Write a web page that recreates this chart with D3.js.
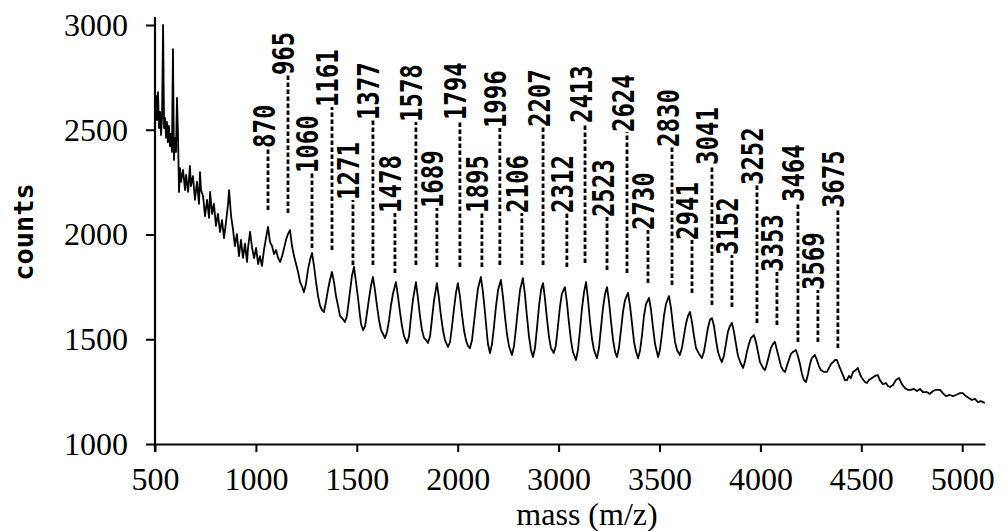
<!DOCTYPE html>
<html>
<head>
<meta charset="utf-8">
<style>
	body { margin:0; background:#fff; }
	svg { position:absolute; top:0px; left:0px; }
	.axis line, .axis path { stroke:#000; stroke-width:2px; }
	.axis text { font-family:"Liberation Serif", "Times New Roman", serif; font-size:32px; fill:#000; }
	.spectrum { fill:none; stroke:#000; stroke-width:1.8px; stroke-linejoin:round; }
	.leader { stroke:#000; stroke-width:2.8px; stroke-dasharray:4.5,2.5; }
	.peak-label { font-family:"DejaVu Sans Mono", monospace; font-size:30px; font-weight:bold; fill:#000; }
	.title { font-family:"Liberation Serif", serif; font-size:32px; fill:#000; }
	.ytitle { font-family:"DejaVu Sans Mono", monospace; font-size:27px; font-weight:bold; fill:#000; }
</style>
<script src="https://cdnjs.cloudflare.com/ajax/libs/d3/7.8.5/d3.min.js"></script>
</head>
<body>
<svg width="1005" height="531"></svg>
<script>
// axis ticks (the printed figure skips "2500", so labels run one step ahead after 2000)
var xTickValues = [500,1000,1500,2000,2500,3000,3500,4000,4500];
var xTickLabels = ["500","1000","1500","2000","3000","3500","4000","4500","5000"];
var yTickValues = [1000,1500,2000,2500,3000];

// spectrum: [mass, counts]
var spectrum = [
[500,2508],[505,2661],[510,2547],[515,2680],[520,2508],[525,2585],[530,2475],[535,2566],[540,3000],[545,2508],
[550,2556],[555,2461],[559,2537],[564,2441],[569,2518],[574,2422],[579,2480],[584,2394],[589,2885],[594,2356],
[599,2461],[604,2394],[609,2652],[614,2475],[619,2203],[624,2317],[629,2251],[639,2308],[649,2212],[654,2284],
[664,2203],[673,2327],[678,2231],[688,2279],[698,2165],[708,2251],[718,2146],[723,2298],[728,2212],[738,2184],
[748,2088],[758,2165],[768,2079],[773,2203],[783,2098],[792,2146],[802,2041],[812,2098],[822,2012],[832,2069],
[842,1983],[852,2060],[862,2146],[867,2212],[877,2088],[887,2021],[896,1945],[906,2002],[916,1897],[926,1974],
[936,1888],[946,1955],[956,1869],[961,1936],[971,2012],[981,1936],[991,1888],[1001,1936],[1011,1859],[1020,1897],
[1030,1850],[1040,1926],[1050,1983],[1060,2036],[1070,1964],[1080,1945],[1090,1907],[1100,1926],[1110,1888],[1120,1869],
[1130,1897],[1140,1936],[1149,1974],[1159,2002],[1169,2021],[1179,1945],[1189,1897],[1199,1859],[1209,1821],[1219,1773],
[1228,1754],[1238,1725],[1248,1764],[1258,1831],[1268,1878],[1278,1912],[1288,1850],[1298,1773],[1308,1706],[1318,1659],
[1327,1640],[1337,1630],[1347,1678],[1357,1735],[1367,1783],[1377,1821],
[1387,1773],[1397,1706],[1407,1659],[1417,1611],[1427,1601],[1441,1582],[1451,1611],[1461,1687],[1471,1764],[1476,1802],[1486,1845],
[1496,1773],[1506,1697],[1516,1611],[1521,1573],[1531,1544],[1541,1563],[1551,1630],[1561,1697],[1570,1754],[1580,1797],
[1590,1735],[1600,1659],[1610,1592],[1620,1544],[1630,1525],[1640,1506],[1650,1535],[1660,1592],[1669,1659],[1679,1716],[1694,1773],
[1704,1706],[1714,1630],[1724,1563],[1734,1515],[1749,1482],[1759,1515],[1769,1611],[1778,1687],[1793,1773],
[1803,1697],[1813,1611],[1823,1544],[1833,1506],[1843,1496],[1853,1482],[1863,1515],[1873,1601],[1883,1687],[1897,1768],
[1907,1697],[1917,1611],[1927,1544],[1937,1496],[1952,1463],[1962,1487],[1972,1563],[1982,1649],[1992,1725],[2001,1768],
[2011,1706],[2021,1620],[2031,1544],[2041,1496],[2051,1468],[2061,1458],[2071,1496],[2081,1582],[2091,1668],[2101,1745],[2115,1797],
[2125,1725],[2135,1630],[2145,1525],[2150,1477],[2160,1434],[2170,1477],[2180,1563],[2190,1659],[2200,1735],[2214,1783],
[2224,1706],[2234,1611],[2244,1525],[2254,1468],[2269,1425],[2279,1468],[2289,1554],[2299,1649],[2309,1735],[2323,1792],
[2333,1716],[2343,1611],[2353,1515],[2363,1449],[2373,1415],[2383,1458],[2393,1554],[2403,1659],[2413,1735],[2423,1768],
[2432,1697],[2442,1601],[2452,1515],[2462,1458],[2476,1434],[2486,1468],[2496,1554],[2506,1649],[2516,1716],[2531,1749],
[2541,1678],[2551,1582],[2561,1496],[2571,1439],[2586,1401],[2596,1449],[2606,1544],[2616,1649],[2626,1725],[2636,1773],
[2645,1697],[2655,1592],[2665,1506],[2675,1449],[2690,1410],[2700,1458],[2710,1554],[2720,1649],[2730,1716],[2740,1749],
[2750,1678],[2760,1582],[2770,1496],[2780,1439],[2789,1415],[2799,1458],[2809,1544],[2819,1630],[2829,1687],[2844,1721],
[2854,1659],[2864,1573],[2874,1487],[2884,1439],[2894,1410],[2904,1449],[2914,1525],[2923,1611],[2933,1668],[2948,1697],
[2958,1640],[2968,1554],[2978,1477],[2993,1415],[3002,1449],[3012,1525],[3022,1611],[3032,1668],[3047,1706],
[3057,1649],[3067,1563],[3077,1487],[3087,1449],[3101,1425],[3111,1458],[3121,1515],[3131,1573],[3141,1611],[3151,1630],
[3161,1582],[3171,1515],[3181,1458],[3196,1430],[3210,1410],[3220,1439],[3230,1496],[3240,1554],[3250,1592],[3260,1601],
[3270,1563],[3280,1496],[3290,1439],[3300,1410],[3309,1391],[3319,1420],[3329,1477],[3339,1535],[3349,1563],[3359,1578],
[3369,1535],[3379,1477],[3389,1420],[3404,1382],[3414,1363],[3423,1391],[3433,1439],[3443,1477],[3453,1506],[3468,1520],
[3478,1487],[3488,1439],[3498,1391],[3513,1363],[3523,1353],[3532,1382],[3542,1420],[3552,1458],[3562,1477],[3572,1487],
[3582,1449],[3592,1410],[3602,1372],[3612,1353],[3622,1344],[3631,1372],[3641,1401],[3651,1430],[3661,1439],[3676,1449],
[3686,1420],[3696,1382],[3706,1334],[3716,1305],[3726,1296],[3736,1334],[3746,1382],[3755,1410],[3770,1425],
[3780,1401],[3790,1372],[3800,1353],[3815,1344],[3830,1344],[3840,1363],[3850,1382],[3860,1391],[3870,1401],[3879,1401],
[3894,1363],[3909,1329],[3919,1305],[3929,1305],[3939,1325],[3949,1315],[3959,1344],[3973,1353],[3983,1363],[3993,1334],
[4003,1315],[4018,1296],[4028,1291],[4038,1305],[4053,1315],[4068,1325],[4082,1329],[4092,1305],[4107,1286],[4122,1291],
[4132,1277],[4142,1272],[4157,1282],[4172,1305],[4187,1315],[4201,1286],[4216,1267],[4231,1258],[4246,1258],[4261,1263],
[4276,1253],[4291,1263],[4305,1248],[4325,1248],[4340,1239],[4355,1253],[4370,1258],[4390,1258],[4404,1243],[4419,1229],
[4439,1234],[4454,1229],[4469,1234],[4489,1243],[4503,1243],[4518,1229],[4533,1220],[4548,1210],[4563,1215],[4578,1200],
[4592,1205],[4612,1196]
];

// peak annotations
var peakLabels = ["870","965","1060","1161","1271","1377","1478","1578","1689","1794","1895","1996","2106","2207",
	"2312","2413","2523","2624","2730","2830","2941","3041","3152","3252","3353","3464","3569","3675"];
var peakMass = [1060,1159,1278,1377,1481,1580,1689,1793,1897,2011,2120,2209,2318,2423,
	2541,2631,2740,2839,2943,3062,3161,3260,3359,3483,3582,3686,3785,3884];
// counts level where each label text begins, and where its dashed leader stops
var labelBase = [2413,2761,2293,2608,2165,2546,2103,2537,2126,2546,2103,2508,2103,2513,
	2103,2532,2083,2489,2021,2418,1974,2332,1902,2236,1821,2155,1735,2126];
var leaderEnd = [2117,2103,1936,1926,1854,1854,1816,1854,1845,1845,1845,1854,1854,1854,
	1845,1864,1831,1816,1768,1759,1721,1663,1654,1578,1568,1487,1487,1458];

var svg = d3.select("svg");

var x = d3.scaleLinear().domain([500, 4613]).range([155, 985]);
var y = d3.scaleLinear().domain([1000, 3000]).range([444, 25]);

// x axis
svg.append("g").attr("class", "axis")
	.attr("transform", "translate(0," + y(1000) + ")")
	.call(d3.axisBottom(x)
		.tickValues(xTickValues)
		.tickFormat(function(d, i) { return xTickLabels[i]; })
		.tickSize(8).tickSizeOuter(0).tickPadding(15));

// y axis
var yAxis = svg.append("g").attr("class", "axis")
	.attr("transform", "translate(" + x(500) + ",0)")
	.call(d3.axisLeft(y)
		.tickValues(yTickValues)
		.tickFormat(d3.format("d"))
		.tickSize(9).tickSizeOuter(0).tickPadding(18));
yAxis.select(".domain").remove();
yAxis.append("line")
	.attr("x1", 0).attr("x2", 0)
	.attr("y1", y(3000) - 8).attr("y2", y(1000) + 8)
	.style("stroke", "#000").style("stroke-width", "2.2px");

// spectrum trace
var line = d3.line()
	.x(function(d) { return x(d[0]); })
	.y(function(d) { return y(d[1]); });

svg.append("path").datum(spectrum).attr("class", "spectrum").attr("d", line);

// peak labels with dashed leaders
var peaks = peakLabels.map(function(t, i) {
	return {label: t, mass: peakMass[i], base: labelBase[i], end: leaderEnd[i]};
});

svg.append("g").selectAll(".leader").data(peaks).join("line")
	.attr("class", "leader")
	.attr("x1", function(d) { return x(d.mass); })
	.attr("x2", function(d) { return x(d.mass); })
	.attr("y1", function(d) { return y(d.end); })
	.attr("y2", function(d) { return y(d.base); });

svg.append("g").selectAll(".peak-label").data(peaks).join("text")
	.attr("class", "peak-label")
	.attr("transform", function(d) {
		return "translate(" + (x(d.mass) + 6.5) + "," + y(d.base) + ") rotate(-90) scale(0.8,1)";
	})
	.text(function(d) { return d.label; });

// axis titles
svg.append("text").attr("class", "title")
	.attr("x", 587).attr("y", 525)
	.attr("text-anchor", "middle")
	.text("mass (m/z)");

svg.append("text").attr("class", "ytitle")
	.attr("transform", "translate(33,232) rotate(-90)")
	.attr("text-anchor", "middle")
	.text("counts");
</script>
</body>
</html>
